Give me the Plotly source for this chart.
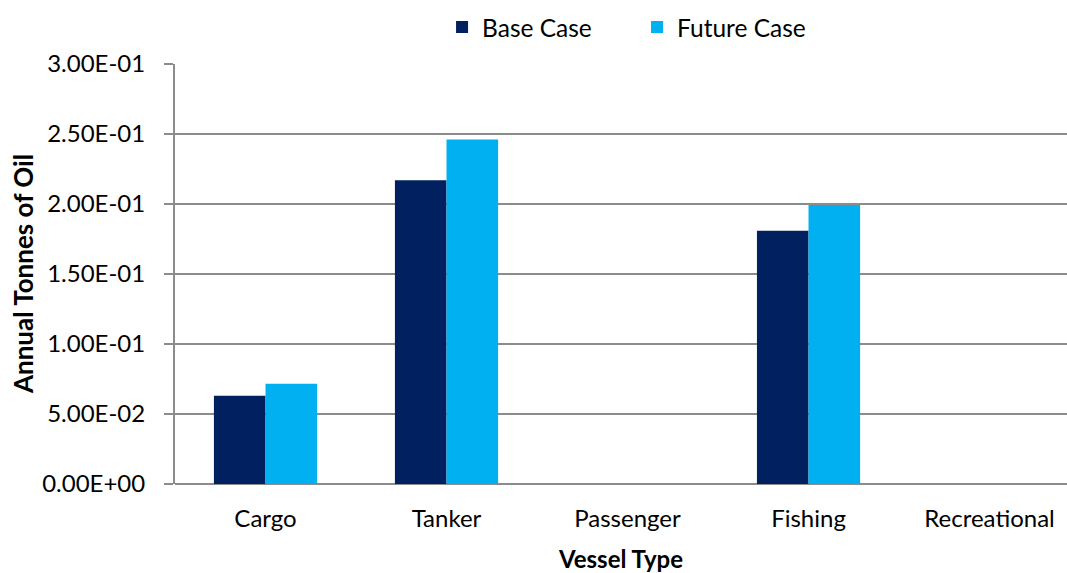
import plotly.graph_objects as go

categories = ["Cargo", "Tanker", "Passenger", "Fishing", "Recreational"]
base_case = [0.0631, 0.2169, 0.0, 0.1809, 0.0]
future_case = [0.0716, 0.2461, 0.0, 0.1993, 0.0]
tick_vals = [0.0, 0.05, 0.10, 0.15, 0.20, 0.25, 0.30]
tick_text = [f"{v:.2E}" for v in tick_vals]

FONT = "Lato"
GRID = "#8c8c8c"

fig = go.Figure()
fig.add_trace(go.Bar(name="Base Case", x=categories, y=base_case,
                     marker=dict(color="#002060", line=dict(width=0))))
fig.add_trace(go.Bar(name="Future Case", x=categories, y=future_case,
                     marker=dict(color="#00B0F0", line=dict(width=0))))

fig.update_layout(
    width=1067, height=573,
    margin=dict(l=175, r=0, t=64, b=89, autoexpand=False),
    paper_bgcolor="white", plot_bgcolor="white",
    barmode="group", bargap=0.43, bargroupgap=0,
    font=dict(family=FONT, size=24, color="#000000"),
    showlegend=True,
    legend=dict(orientation="h", x=0.518, xanchor="center", y=1.088, yanchor="middle",
                font=dict(family=FONT, size=24.5), itemwidth=30, traceorder="normal",
                entrywidth=150, entrywidthmode="pixels",
                bgcolor="rgba(0,0,0,0)"),
    xaxis=dict(range=[-0.5, 4.428], showgrid=False, showline=False, automargin=False,
               ticks="", tickfont=dict(family=FONT, size=24), ticklabelstandoff=18,
               title=dict(text="<b>Vessel Type</b>", font=dict(family=FONT, size=24), standoff=30),
               fixedrange=True),
    yaxis=dict(range=[0, 0.3], tickvals=tick_vals, ticktext=tick_text, automargin=False,
               showgrid=True, gridcolor=GRID, gridwidth=2,
               showline=True, linecolor=GRID, linewidth=2,
               ticks="outside", ticklen=9, tickcolor=GRID, tickwidth=2,
               tickfont=dict(family=FONT, size=24), ticklabelstandoff=14,
               zeroline=True, zerolinecolor=GRID, zerolinewidth=2,
               fixedrange=True),
    annotations=[dict(text="<b>Annual Tonnes of Oil</b>", xref="paper", yref="paper",
                      x=-0.1704, y=0.5, xanchor="center", yanchor="middle",
                      textangle=-90, showarrow=False, font=dict(family=FONT, size=26))],
)

fig.write_html("out.html", post_script="document.body.style.margin='0px';",
               config={"displayModeBar": False})
